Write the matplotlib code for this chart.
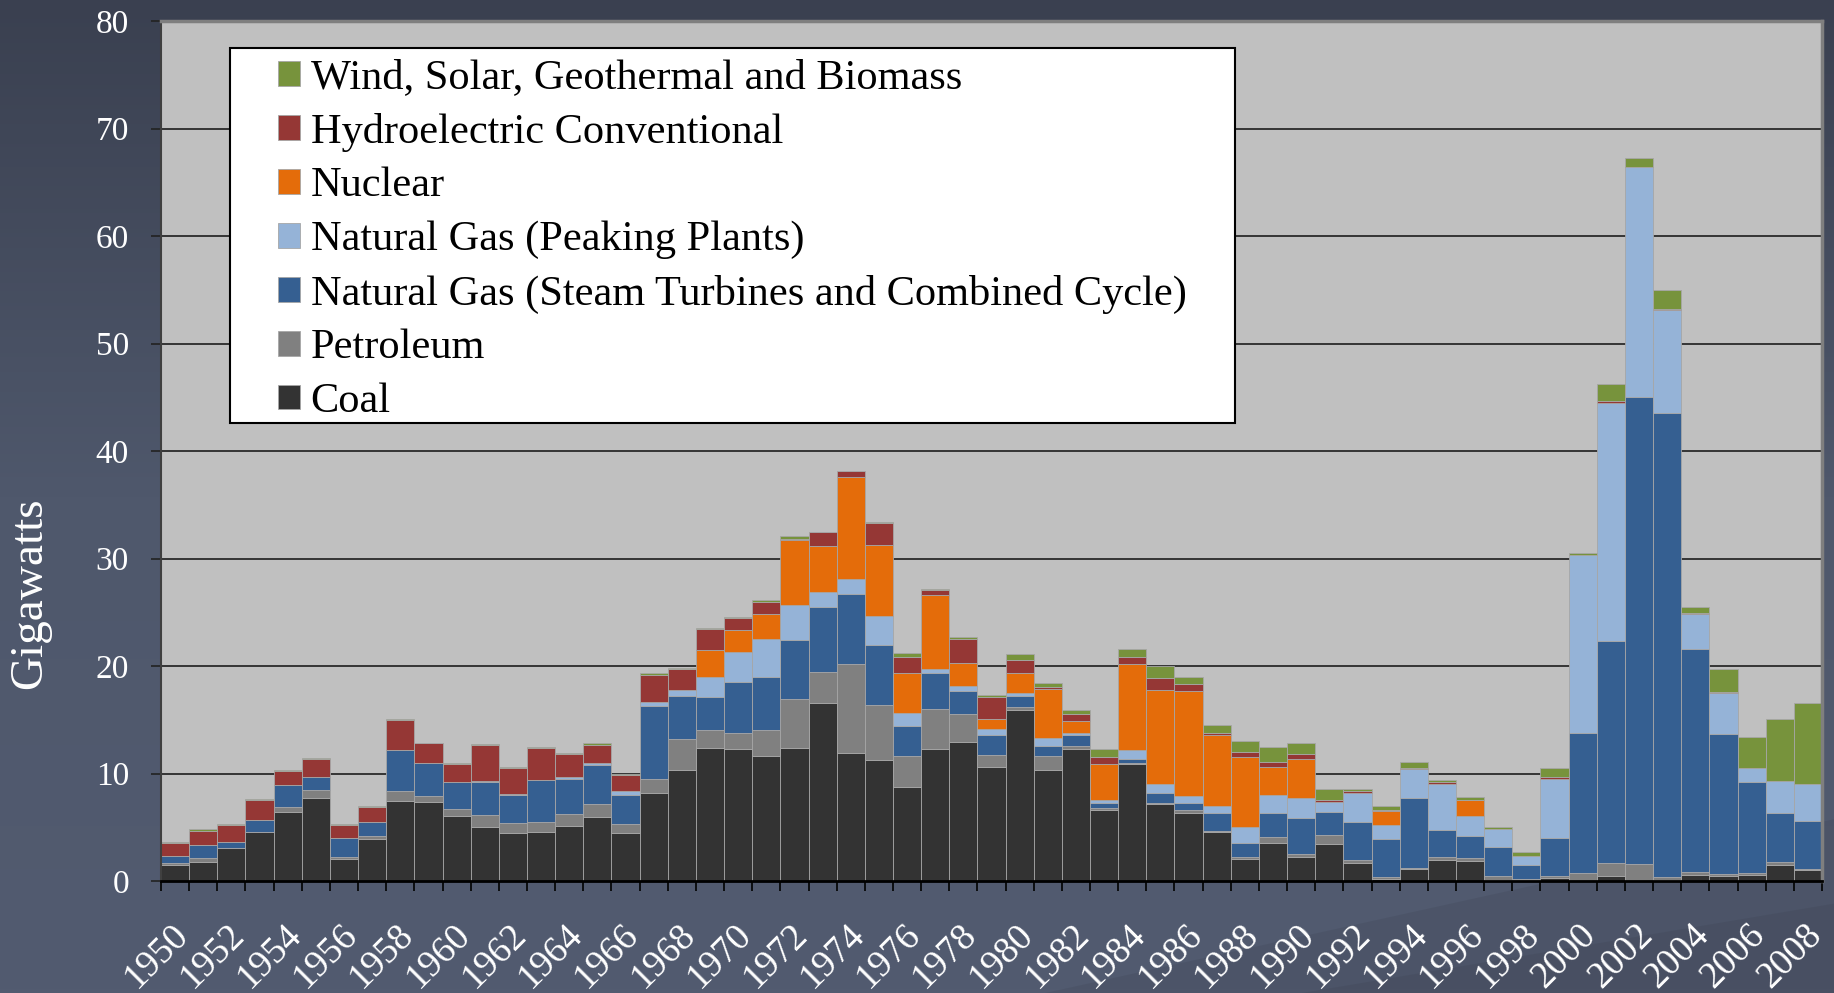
import numpy as np
import matplotlib
matplotlib.use("Agg")
import matplotlib.pyplot as plt
from matplotlib.patches import Rectangle, Polygon
from matplotlib.colors import LinearSegmentedColormap
from matplotlib.transforms import ScaledTranslation

plt.rcParams['font.family'] = ['Liberation Serif', 'DejaVu Serif']

years = list(range(1950, 2009))

coal = [1.46, 1.77, 3.1, 4.57, 6.43, 7.73, 2.02, 3.91, 7.45, 7.36,
        6.06, 5.03, 4.47, 4.57, 5.12, 5.96, 4.47, 8.2, 10.31, 12.39,
        12.24, 11.65, 12.33, 16.55, 11.93, 11.24, 8.76, 12.3, 12.95, 10.62,
        15.9, 10.31, 12.3, 6.65, 10.93, 7.14, 6.34, 4.57, 2.08, 3.54,
        2.24, 3.42, 1.68, 0.16, 1.14, 1.97, 1.83, 0.1, 0.05, 0.27,
        0.0, 0.46, 0.0, 0.05, 0.59, 0.46, 0.59, 1.46, 1.05]
petroleum = [0.25, 0.34, 0.0, 0.0, 0.43, 0.69, 0.18, 0.31, 0.9, 0.56,
             0.62, 1.09, 0.9, 0.9, 1.09, 1.24, 0.81, 1.33, 2.89, 1.62,
             1.49, 2.39, 4.6, 2.89, 8.26, 5.13, 2.89, 3.66, 2.58, 1.12,
             0.25, 1.3, 0.28, 0.18, 0.06, 0.13, 0.24, 0.09, 0.16, 0.56,
             0.31, 0.9, 0.25, 0.21, 0.1, 0.22, 0.32, 0.36, 0.09, 0.23,
             0.78, 1.19, 1.55, 0.32, 0.23, 0.18, 0.14, 0.28, 0.09]
gas_steam = [0.65, 1.21, 0.52, 1.14, 2.05, 1.21, 1.84, 1.25, 3.82, 3.1,
             2.51, 3.1, 2.67, 3.88, 3.32, 3.61, 2.76, 6.74, 4.0, 3.07,
             4.81, 4.9, 5.49, 6.09, 6.52, 5.62, 2.79, 3.42, 2.14, 1.86,
             1.05, 0.94, 1.02, 0.44, 0.38, 0.93, 0.69, 1.71, 1.33, 2.24,
             3.35, 2.11, 3.6, 3.57, 6.5, 2.57, 2.01, 2.74, 1.37, 3.52,
             13.03, 20.66, 43.49, 43.21, 20.76, 13.08, 8.51, 4.62, 4.48]
gas_peak = [0, 0, 0, 0, 0, 0, 0, 0, 0, 0,
            0, 0.05, 0.05, 0.06, 0.1, 0.18, 0.31, 0.41, 0.56, 1.86,
            2.76, 3.58, 3.26, 1.36, 1.36, 2.7, 1.18, 0.34, 0.44, 0.53,
            0.25, 0.74, 0.13, 0.25, 0.77, 0.81, 0.62, 0.59, 1.46, 1.7,
            1.86, 0.93, 2.61, 1.31, 2.66, 4.29, 1.92, 1.65, 0.82, 5.49,
            16.51, 22.18, 21.4, 9.51, 3.25, 3.79, 1.28, 2.92, 3.43]
nuclear = [0, 0, 0, 0, 0, 0, 0, 0, 0, 0,
           0, 0, 0, 0, 0, 0, 0, 0, 0, 2.55,
           2.09, 2.29, 6.0, 4.29, 9.48, 6.55, 3.7, 6.86, 2.14, 0.9,
           1.93, 4.54, 1.18, 3.32, 8.08, 8.72, 9.78, 6.58, 6.49, 2.52,
           3.61, 0, 0, 1.24, 0, 0, 1.42, 0, 0, 0,
           0, 0, 0, 0, 0, 0, 0, 0, 0]
hydro = [1.18, 1.37, 1.62, 1.87, 1.31, 1.71, 1.21, 1.46, 2.77, 1.78,
         1.68, 3.42, 2.42, 2.92, 2.17, 1.65, 1.49, 2.51, 1.93, 1.93,
         1.11, 1.19, 0.18, 1.24, 0.56, 2.02, 1.55, 0.53, 2.27, 2.11,
         1.18, 0.24, 0.62, 0.65, 0.62, 1.18, 0.68, 0.25, 0.5, 0.53,
         0.46, 0.16, 0.21, 0.09, 0.13, 0.14, 0, 0, 0, 0.14,
         0, 0.14, 0, 0.13, 0.1, 0.05, 0, 0.05, 0]
renewables = [0.06, 0.12, 0.03, 0.03, 0.09, 0.09, 0.09, 0.09, 0.09, 0.06,
              0.09, 0.06, 0.06, 0.09, 0.09, 0.22, 0.16, 0.16, 0.12, 0.09,
              0.1, 0.15, 0.22, 0.06, 0.06, 0.16, 0.31, 0.09, 0.15, 0.19,
              0.53, 0.35, 0.4, 0.75, 0.74, 1.06, 0.66, 0.74, 0.96, 1.39,
              0.97, 1.02, 0.25, 0.44, 0.55, 0.18, 0.36, 0.18, 0.41, 0.82,
              0.22, 1.64, 0.82, 1.79, 0.54, 2.15, 2.92, 5.71, 7.55]

series = [
    ("Coal", coal, "#333333"),
    ("Petroleum", petroleum, "#808080"),
    ("Natural Gas (Steam Turbines and Combined Cycle)", gas_steam, "#355f91"),
    ("Natural Gas (Peaking Plants)", gas_peak, "#95b3d7"),
    ("Nuclear", nuclear, "#e46c0a"),
    ("Hydroelectric Conventional", hydro, "#953735"),
    ("Wind, Solar, Geothermal and Biomass", renewables, "#77933c"),
]

fig = plt.figure(figsize=(18.34, 9.93), dpi=100)

# slide background
bg = fig.add_axes([0, 0, 1, 1], zorder=-10)
grad = np.linspace(0, 1, 256).reshape(-1, 1)
cmap = LinearSegmentedColormap.from_list("bg", ["#525b70", "#4f586c", "#3a4050"])
bg.imshow(grad, aspect="auto", cmap=cmap, extent=[0, 1, 0, 1], origin="lower")
bg.add_patch(Polygon([(0.57, 0), (1, 0.175), (1, 0)], closed=True,
                     color="black", alpha=0.06, lw=0))
bg.add_patch(Polygon([(0.71, 0), (1, 0.09), (1, 0)], closed=True,
                     color="black", alpha=0.05, lw=0))
bg.set_xlim(0, 1)
bg.set_ylim(0, 1)
bg.axis("off")

ax = fig.add_axes([161 / 1834, 112 / 993, 1661 / 1834, 860 / 993])
ax.set_facecolor("#c0c0c0")

x = np.arange(len(years))
bottom = np.zeros(len(years))
bars = []
for name, vals, col in series:
    vals = np.array(vals, dtype=float)
    b = ax.bar(x, vals, width=1.0, bottom=bottom, color=col, label=name,
               edgecolor="#a6a6a6", linewidth=0.6, zorder=3)
    bars.append(b)
    bottom += vals

ax.set_xlim(-0.5, len(years) - 0.5)
ax.set_ylim(0, 80)
ax.set_yticks(range(0, 81, 10))
ax.yaxis.grid(True, color="#2a2a2a", linewidth=1.3, zorder=1)
ax.set_axisbelow(True)

ax.tick_params(axis="y", colors="#222222", labelcolor="white", labelsize=24,
               length=7, width=1.2, pad=16)
ax.set_xticks(np.arange(-0.5, len(years), 1.0))
ax.set_xticklabels([])
ax.tick_params(axis="x", which="major", colors="black", length=7, width=1.2)
ax.set_xticks(x[::2], minor=True)
ax.set_xticklabels([str(y) for y in years[::2]], minor=True, rotation=45,
                   ha="right", va="top", rotation_mode="anchor")
ax.tick_params(axis="x", which="minor", length=0, labelcolor="white",
               labelsize=27, pad=26)
shift = ScaledTranslation(-0.04, 0, fig.dpi_scale_trans)
for lbl in ax.get_xticklabels(minor=True):
    lbl.set_transform(lbl.get_transform() + shift)

for s in ["top", "right"]:
    ax.spines[s].set_color("#7f7f7f")
    ax.spines[s].set_linewidth(2.5)
ax.spines["left"].set_color("#404040")
ax.spines["left"].set_linewidth(1.5)
ax.spines["bottom"].set_color("black")
ax.spines["bottom"].set_linewidth(2)
for s in ax.spines.values():
    s.set_zorder(4)

fig.text(30 / 1834, 1 - 507 * 1.1697 / 993, "Gigawatts", rotation=90,
         color="white", fontsize=34, ha="center", va="center")

# legend box drawn by hand for the uneven padding
ax.add_patch(Rectangle((0.0415, 0.5326), 0.6051, 0.436, transform=ax.transAxes,
                       facecolor="white", edgecolor="black", linewidth=1.5,
                       zorder=6))
handles = [b for b in bars][::-1]
labels = [s[0] for s in series][::-1]
leg = ax.legend(handles, labels, loc="upper left",
                bbox_to_anchor=((278 - 161) / 1661, (881 - 59) / 860),
                frameon=False, fontsize=30.5, borderpad=0, borderaxespad=0,
                handlelength=0.52, handleheight=0.52, handletextpad=0.25,
                labelspacing=0.36)
leg.set_zorder(7)

fig.savefig("out.png", dpi=100, facecolor=fig.get_facecolor())
